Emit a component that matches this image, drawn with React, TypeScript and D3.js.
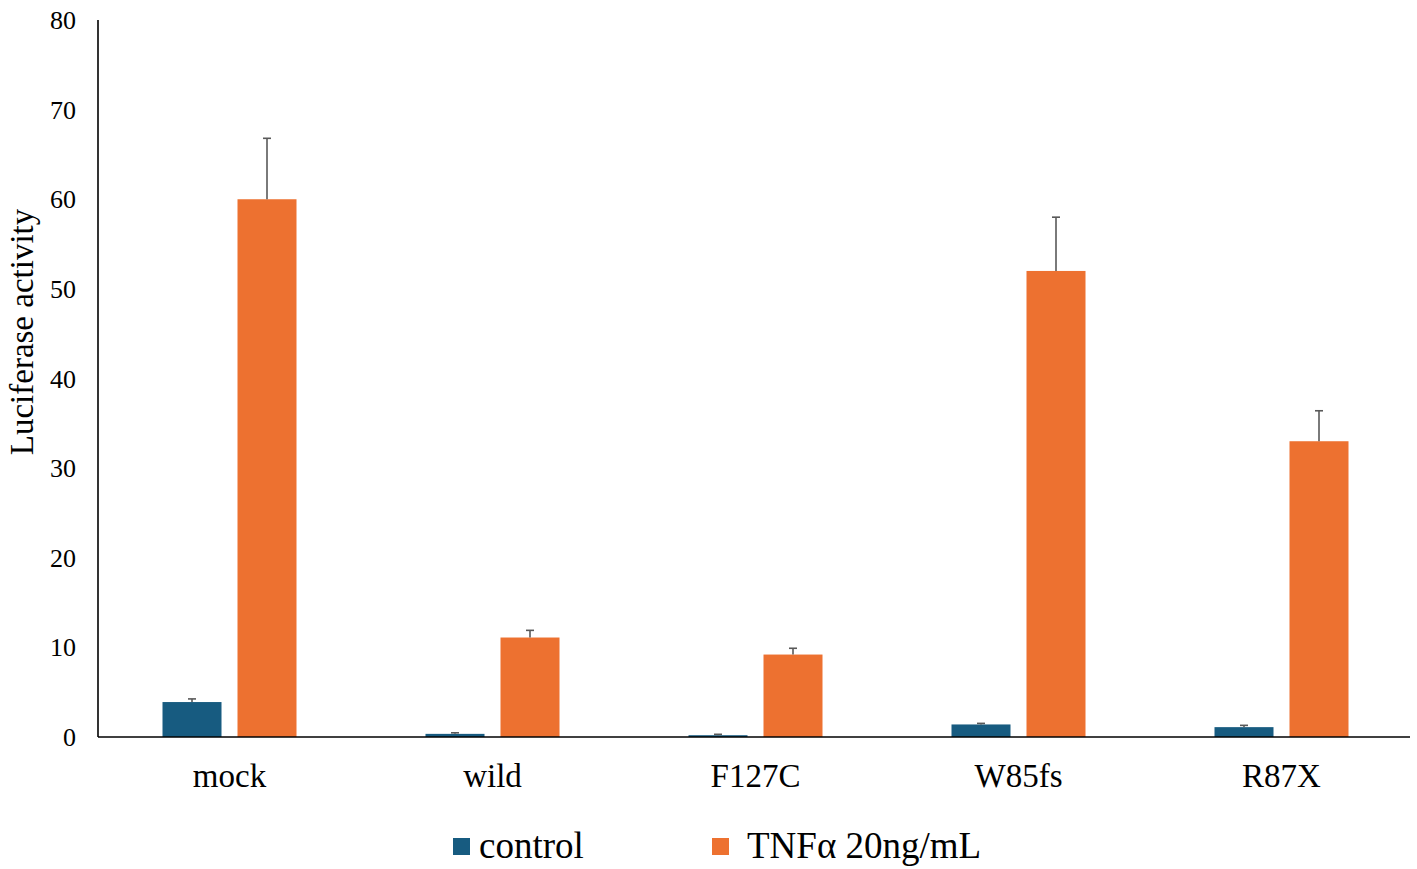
import React from "react";
import * as d3 from "d3";

const categories = ["mock", "wild", "F127C", "W85fs", "R87X"];
const seriesNames = ["control", "TNFα 20ng/mL"];
const controlValues = [3.9, 0.35, 0.2, 1.4, 1.1];
const controlErrors = [0.35, 0.12, 0.1, 0.12, 0.2];
const tnfValues = [60, 11.1, 9.2, 52, 33];
const tnfErrors = [6.8, 0.8, 0.7, 6, 3.4];
const yTicks = [0, 10, 20, 30, 40, 50, 60, 70, 80];
const colors = ["#175b80", "#ed7130"];

const W = 1417;
const H = 869;
const FONT = "'Liberation Serif', 'Times New Roman', serif";

export default function App() {
  const x0 = 98, x1 = 1413, yTop = 20, yBot = 737;
  const x = d3.scaleBand<string>().domain(categories).range([x0, x1]);
  const barW = 59;
  const gap = 16;
  const y = d3.scaleLinear().domain([0, 80]).range([yBot, yTop]);
  const series = [
    { name: seriesNames[0], values: controlValues, errors: controlErrors, color: colors[0] },
    { name: seriesNames[1], values: tnfValues, errors: tnfErrors, color: colors[1] },
  ];
  const groupW = barW * 2 + gap;

  return (
    <svg width={W} height={H} style={{ position: "absolute", left: 0, top: 0, background: "#fff" }} fontFamily={FONT}>
      {series.map((s, si) =>
        categories.map((c, i) => {
          const cx = (x(c) as number) + x.bandwidth() / 2;
          const bx = cx - groupW / 2 + si * (barW + gap);
          const v = s.values[i];
          const e = s.errors[i];
          const mid = bx + barW / 2;
          return (
            <g key={s.name + c}>
              <rect x={bx} y={y(v)} width={barW} height={y(0) - y(v)} fill={s.color} />
              <line x1={mid} x2={mid} y1={y(v)} y2={y(v + e)} stroke="#595959" strokeWidth={1.6} />
              <line x1={mid - 4} x2={mid + 4} y1={y(v + e)} y2={y(v + e)} stroke="#595959" strokeWidth={1.6} />
            </g>
          );
        })
      )}
      <line x1={x0} x2={x0} y1={yTop} y2={yBot} stroke="#000" strokeWidth={1.6} />
      <line x1={x0} x2={1410} y1={yBot} y2={yBot} stroke="#000" strokeWidth={1.6} />
      {yTicks.map((t) => (
        <text key={t} x={76} y={y(t)} dy="0.35em" textAnchor="end" fontSize={26} fill="#000">
          {t}
        </text>
      ))}
      {categories.map((c) => (
        <text key={c} x={(x(c) as number) + x.bandwidth() / 2} y={787} textAnchor="middle" fontSize={33} fill="#000">
          {c}
        </text>
      ))}
      <text transform={`translate(33,332) rotate(-90)`} textAnchor="middle" fontSize={33} fill="#000">
        Luciferase activity
      </text>
      <rect x={453} y={838} width={17} height={17} fill={colors[0]} />
      <text x={479} y={858} fontSize={37} fill="#000">{seriesNames[0]}</text>
      <rect x={712} y={838} width={17} height={17} fill={colors[1]} />
      <text x={747} y={858} fontSize={37} fill="#000">{seriesNames[1]}</text>
    </svg>
  );
}
